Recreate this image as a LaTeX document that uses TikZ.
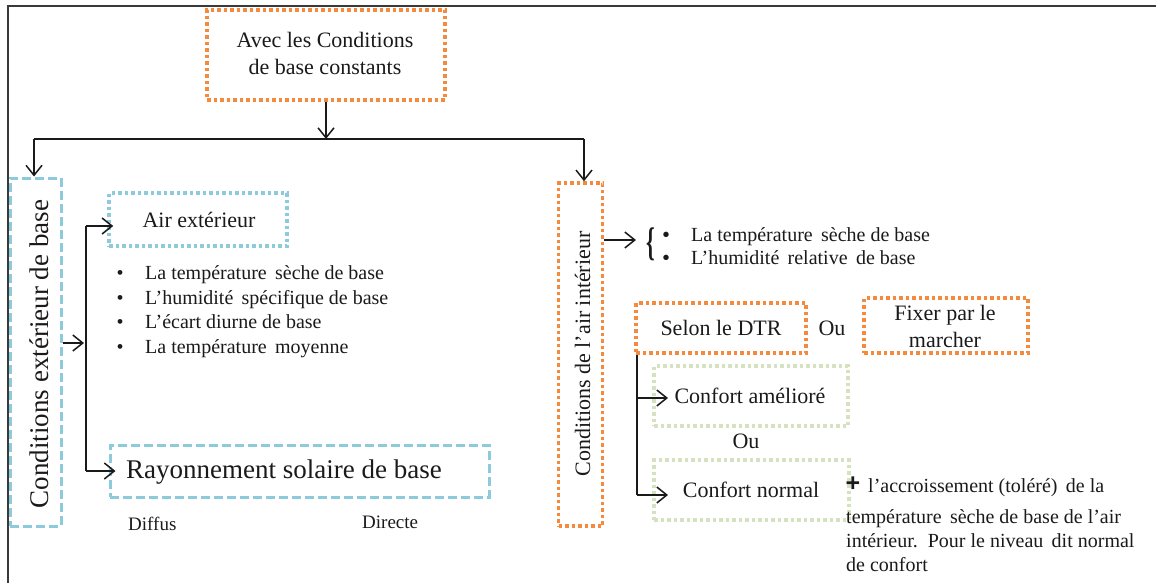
\documentclass[tikz,border=0pt]{standalone}
\usepackage{fontspec}
\setmainfont{Liberation Serif}
\newfontfamily\plusfont{Liberation Sans}
\usetikzlibrary{arrows.meta}
\definecolor{org}{HTML}{F58A3C}
\definecolor{lblue}{HTML}{8DCADB}
\definecolor{lgreen}{HTML}{D5E1BF}
\definecolor{ink}{HTML}{1A1A1A}
\definecolor{frame}{HTML}{3A3A3A}
\begin{document}
\begin{tikzpicture}[x=1pt,y=-1pt,
  orangebox/.style={draw=org, line width=3.5pt, dash pattern=on 3.5pt off 3pt, inner sep=0pt, align=center, text=ink},
  bluedotbox/.style={draw=lblue, line width=3.5pt, dash pattern=on 3.5pt off 3pt, inner sep=0pt},
  bluedashbox/.style={draw=lblue, line width=3pt, dash pattern=on 9pt off 4pt, inner sep=0pt},
  greenbox/.style={draw=lgreen, line width=3.5pt, dash pattern=on 3.5pt off 3pt, inner sep=0pt},
  conn/.style={line width=1.5pt, draw=ink},
  arr/.style={conn, -{Straight Barb[length=10pt,width=16pt]}},
  smalltxt/.style={font=\fontsize{20}{24}\selectfont, inner sep=0pt, text=ink, align=left},
  midtxt/.style={font=\fontsize{22}{26}\selectfont, inner sep=0pt, text=ink, align=center},
  bigtxt/.style={font=\fontsize{27}{30}\selectfont, inner sep=0pt, text=ink},
  tinytxt/.style={font=\fontsize{19}{22}\selectfont, inner sep=0pt, text=ink},
  bulletdot/.style={font=\fontsize{20}{20}\selectfont\bfseries, inner sep=0pt, text=ink, text height=10pt, text depth=0pt},
]
\useasboundingbox (0,0) rectangle (1156,583);
% frame
\coordinate (f1) at (8,583);
\coordinate (f2) at (8,6);
\coordinate (f3) at (1156,6);
\draw[frame, line width=1.5pt] (f1) -- (f2) -- (f3);

% top box
\node[orangebox, minimum width=238, minimum height=90] (top) at (326,55) {};
\node[midtxt, anchor=base] (top1) at (325,48) {Avec les Conditions};
\node[midtxt, anchor=base] (top2) at (325,75) {de base constants};

% split line
\coordinate (hl) at (34,139);
\coordinate (hr) at (584,139);
\draw[conn] (hl) -- (hr);
\draw[arr] (top.south) -- (top.south |- hl);

% left big box
\node[bluedashbox, minimum width=51, minimum height=348] (ext) at (35.5,352) {};
\node[bigtxt, rotate=90, anchor=base] (exttxt) at (48,354) {Conditions extérieur de base};
\draw[arr] (hl) -- (hl |- ext.north);

% right big box
\node[orangebox, minimum width=44, minimum height=343] (int) at (580.5,354.5) {};
\node[midtxt, rotate=90, anchor=base] (inttxt) at (590,354) {Conditions de l'air intérieur};
\draw[arr] (hr) -- (hr |- int.north);

% left branch
\node[bluedotbox, minimum width=178, minimum height=53] (air) at (198,219.5) {};
\node[midtxt, anchor=base] (airtxt) at (199,227) {Air extérieur};
\node[bluedashbox, minimum width=379, minimum height=52] (ray) at (299.5,471) {};
\node[bigtxt, anchor=base west] (raytxt) at (126,478) {Rayonnement solaire de base};
\coordinate (vt) at (86,226);
\coordinate (vb) at (86,471);
\coordinate (vm) at (84,343);
\draw[conn] (vt) -- (vb);
\draw[arr] (ext.east |- vm) -- (vm);
\draw[arr] (vt) -- ([xshift=6pt]air.west |- vt);
\draw[arr] (vb) -- ([xshift=7pt]ray.west |- vb);

% bullet list
\foreach \i/\y/\t in {1/279/{La température\, sèche de base},
                      2/304/{L'humidité\, spécifique de base},
                      3/328/{L'écart diurne de base},
                      4/353/{La température\, moyenne}} {
  \node[smalltxt, anchor=base] (b\i) at (120,\y) {•};
  \node[smalltxt, anchor=base west] (l\i) at (145,\y) {\t};
}
\node[tinytxt, anchor=base west] (diffus) at (128,530) {Diffus};
\node[tinytxt, anchor=base west] (directe) at (362,528) {Directe};

% right branch
\coordinate (ra) at (636,240);
\draw[arr] (int.east |- ra) -- (ra);
\node[inner sep=0pt, xscale=0.55, font=\fontsize{40}{40}\selectfont\bfseries, text=ink] (brace) at (651,244) {\{};
\node[bulletdot, anchor=base] (rb1) at (666,241) {•};
\node[bulletdot, anchor=base] (rb2) at (666,264) {•};
\node[smalltxt, anchor=base west] (rt1) at (691,241) {La température\, sèche de base};
\node[smalltxt, anchor=base west] (rt2) at (691,264) {L'humidité\, relative\, de base};

\node[orangebox, minimum width=170, minimum height=50] (selon) at (721,328) {};
\node[midtxt, anchor=base] (selontxt) at (721,335) {Selon le DTR};
\node[midtxt, anchor=base] (ou1) at (832,335) {Ou};
\node[orangebox, minimum width=164, minimum height=55] (fixer) at (946,325.5) {};
\node[midtxt, anchor=base] (fix1) at (945,320) {Fixer par le};
\node[midtxt, anchor=base] (fix2) at (945,347) {marcher};

\node[greenbox, minimum width=194, minimum height=60] (ca) at (751,396) {};
\node[midtxt, anchor=base] (catxt) at (750,403) {Confort amélioré};
\node[midtxt, anchor=base] (ou2) at (746,448) {Ou};
\node[greenbox, minimum width=195, minimum height=60] (cn) at (751.5,490) {};
\node[midtxt, anchor=base] (cntxt) at (751,497) {Confort normal};

\coordinate (vr) at (637,495);
\coordinate (va) at (637,398);
\draw[conn] (selon.south west -| vr) -- (vr);
\draw[arr] (va) -- (668,398);
\draw[arr] (vr) -- (668,495);

\node[font=\fontsize{25}{26}\plusfont\bfseries, inner sep=0pt, text=ink, anchor=base] (plus) at (853,491) {+};
\node[smalltxt, anchor=base west] (acc1) at (868,492) {l'accroissement (toléré)\, de la};
\node[smalltxt, anchor=base west] (acc2) at (846,523) {température\, sèche de base de l'air};
\node[smalltxt, anchor=base west] (acc3) at (846,547) {intérieur.\, Pour le niveau\, dit normal};
\node[smalltxt, anchor=base west] (acc4) at (846,571) {de confort};
\end{tikzpicture}
\end{document}
